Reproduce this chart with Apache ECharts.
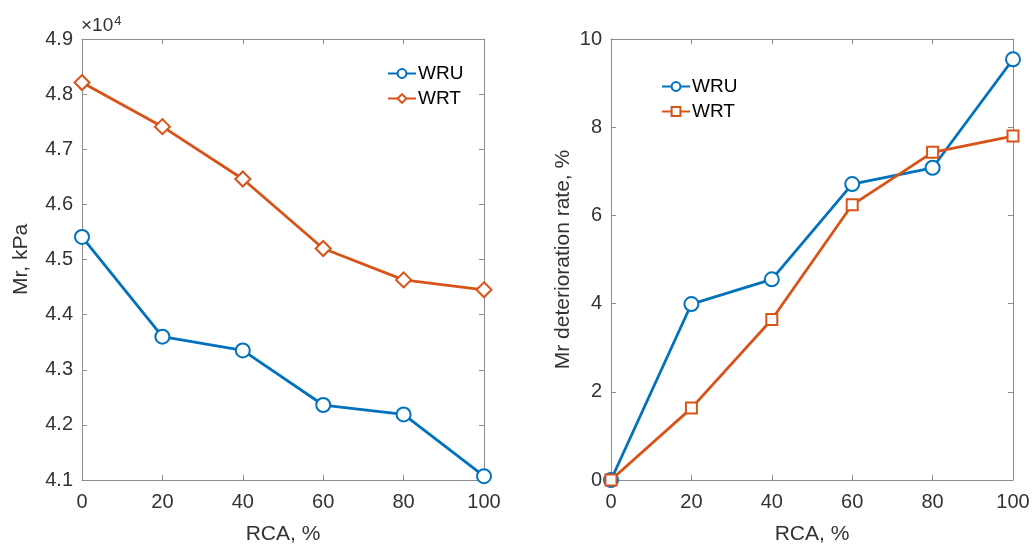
<!DOCTYPE html>
<html>
<head>
<meta charset="utf-8">
<script src="https://cdn.jsdelivr.net/npm/echarts@6/dist/echarts.min.js"></script>
<style>
  html, body { margin: 0; padding: 0; background: #fff; }
  #chart { width: 1035px; height: 551px; }
</style>
</head>
<body>
<div id="chart"></div>
<script>
// RCA replacement levels, %
const rca = [0, 20, 40, 60, 80, 100];
// resilient modulus, kPa
const mrWRU = [45410, 43600, 43350, 42360, 42190, 41070];
const mrWRT = [48210, 47410, 46460, 45200, 44630, 44450];
// Mr deterioration rate, %
const detWRU = [0, 3.99, 4.55, 6.71, 7.08, 9.54];
const detWRT = [0, 1.63, 3.64, 6.24, 7.43, 7.80];

const blue = "#0072BD";
const orange = "#D95319";
const axisGray = "#8c8c8c";
const textColor = "#333333";
const font = "Liberation Sans";

const pairs = (xs, ys) => xs.map((x, i) => [x, ys[i]]);

function xAxisBase(gridIndex) {
  return [
    {
      gridIndex, type: "value", min: 0, max: 100, interval: 20,
      name: "RCA, %", nameLocation: "middle", nameGap: 44,
      nameTextStyle: { fontFamily: font, fontSize: 21, color: textColor },
      axisLine: { onZero: false, lineStyle: { color: axisGray, width: 1 } },
      axisTick: { inside: true, length: 5, lineStyle: { color: axisGray } },
      axisLabel: { fontFamily: font, fontSize: 20, color: textColor, margin: 12 },
      splitLine: { show: false },
    },
    {
      gridIndex, type: "value", position: "top", min: 0, max: 100, interval: 20,
      axisLine: { onZero: false, lineStyle: { color: axisGray, width: 1 } },
      axisTick: { inside: true, length: 5, lineStyle: { color: axisGray } },
      axisLabel: { show: false },
      splitLine: { show: false },
    },
  ];
}

function yAxisBase(gridIndex, min, max, interval, name, nameGap, fmt) {
  return [
    {
      gridIndex, type: "value", min, max, interval,
      name, nameLocation: "middle", nameGap,
      nameTextStyle: { fontFamily: font, fontSize: 21, color: textColor },
      axisLine: { show: true, onZero: false, lineStyle: { color: axisGray, width: 1 } },
      axisTick: { show: true, inside: true, length: 5, lineStyle: { color: axisGray } },
      axisLabel: { fontFamily: font, fontSize: 20, color: textColor, margin: 9, formatter: fmt },
      splitLine: { show: false },
    },
    {
      gridIndex, type: "value", position: "right", min, max, interval,
      axisLine: { show: true, onZero: false, lineStyle: { color: axisGray, width: 1 } },
      axisTick: { show: true, inside: true, length: 5, lineStyle: { color: axisGray } },
      axisLabel: { show: false },
      splitLine: { show: false },
    },
  ];
}

function lineSeries(name, data, color, symbol, size, xi, yi) {
  return {
    name, type: "line", data, xAxisIndex: xi, yAxisIndex: yi,
    symbol, symbolSize: size, clip: false,
    lineStyle: { color, width: 2.8 },
    itemStyle: { color, borderColor: color, borderWidth: 2.2 },
    emphasis: { disabled: true },
  };
}

function legendAt(left, top, names) {
  return {
    data: names, left, top, orient: "vertical", itemGap: 6,
    itemWidth: 28, itemHeight: 11,
    textStyle: { fontFamily: font, fontSize: 19, color: "#000", padding: [0, 0, 0, -3] },
    selectedMode: false,
    formatter: (n) => n.split(" ")[0],
  };
}

const chart = echarts.init(document.getElementById("chart"));
const option = {
  animation: false,
  backgroundColor: "#fff",
  // exponent label of the left y axis
  title: {
    text: "{a|×10}{b|4}",
    left: 81, top: 15, padding: 0,
    textStyle: {
      rich: {
        a: { fontFamily: font, fontSize: 19, color: textColor, fontWeight: "normal" },
        b: { fontFamily: font, fontSize: 13, color: textColor, fontWeight: "normal", verticalAlign: "top", padding: [0, 0, 9, 1] },
      },
    },
  },
  grid: [
    { left: 82, right: 551, top: 39, bottom: 71 },
    { left: 611, right: 22, top: 39, bottom: 71 },
  ],
  xAxis: [...xAxisBase(0), ...xAxisBase(1)],
  yAxis: [
    ...yAxisBase(0, 41000, 49000, 1000, "Mr, kPa", 50, (v) => (v / 10000).toFixed(1)),
    ...yAxisBase(1, 0, 10, 2, "Mr deterioration rate, %", 37, (v) => v),
  ],
  legend: [
    legendAt(382, 59, ["WRU", "WRT"]),
    legendAt(656, 72, ["WRU rate", "WRT rate"]),
  ],
  series: [
    lineSeries("WRU", pairs(rca, mrWRU), blue, "emptyCircle", 14, 0, 0),
    lineSeries("WRT", pairs(rca, mrWRT), orange, "emptyDiamond", 15, 0, 0),
    lineSeries("WRU rate", pairs(rca, detWRU), blue, "emptyCircle", 14, 2, 2),
    lineSeries("WRT rate", pairs(rca, detWRT), orange, "emptyRect", 11, 2, 2),
  ],
};
chart.setOption(option);
</script>
</body>
</html>
